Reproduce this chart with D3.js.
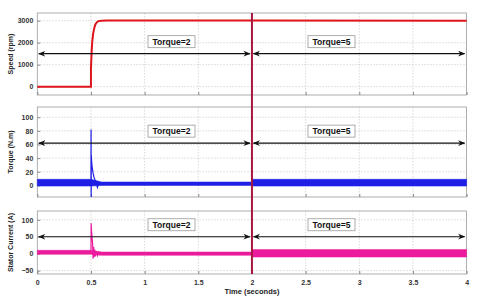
<!DOCTYPE html>
<html>
<head>
<meta charset="utf-8">
<script src="https://cdn.jsdelivr.net/npm/d3@7"></script>
<style>
  body { margin: 0; background: #fff; }
  text { font-family: "Liberation Sans", Arial, sans-serif; font-weight: bold; }
</style>
</head>
<body>
<div class="vis-area"></div>
<script>
var width = 480;
var height = 302;

// time axis
var timeTicks = [0, 0.5, 1, 1.5, 2, 2.5, 3, 3.5, 4];
var timeTickLabels = ['0', '0.5', '1', '1.5', '2', '2.5', '3', '3.5', '4'];
var loadStepTime = 2;
var loadLabels = ['Torque=2', 'Torque=5'];

// speed (rpm)
var speedT = [0, 0.5, 0.5, 0.503, 0.507, 0.512, 0.52, 0.53, 0.54, 0.555, 0.57, 0.6, 0.65, 2, 4];
var speedV = [0, 0, 850, 1200, 1650, 2050, 2400, 2650, 2820, 2930, 2980, 3000, 3005, 3005, 3000];
var speedTicks = [0, 1000, 2000, 3000];

// torque (N.m): noise envelope + start-up transient
var torqueBandT = [0, 0.5, 0.6, 2, 2, 4];
var torqueBandLo = [-1, -1, 0, 0, -1, -1];
var torqueBandHi = [9, 9, 5, 5, 9, 9];
var torqueT = [0.5, 0.501, 0.502, 0.503, 0.505, 0.51, 0.52, 0.53, 0.54, 0.55, 0.56, 0.57, 0.58, 0.6];
var torqueV = [4, 82, -17, 45, 38, 28, 18, 11, 7, 3, -3, 2, 3, 2.5];
var torqueTicks = [0, 20, 40, 60, 80, 100];

// stator current (A): noise envelope + start-up transient
var currentBandT = [0, 0.5, 0.6, 2, 2, 4];
var currentBandLo = [-2, -2, -5, -5, -10, -10];
var currentBandHi = [10, 10, 5, 5, 12, 12];
var currentT = [0.5, 0.502, 0.505, 0.51, 0.515, 0.52, 0.525, 0.53, 0.535, 0.54, 0.55, 0.56, 0.57, 0.58, 0.6];
var currentV = [5, 90, 70, 50, 30, -15, 20, -10, 12, -8, 6, -6, 4, -3, 0];
var currentTicks = [-50, 0, 50, 100];

var panels = [
  { label: 'Speed (rpm)', top: 13, bottom: 95, domain: [-380, 3350], ticks: speedTicks, arrowAt: 1500 },
  { label: 'Torque (N.m)', top: 107, bottom: 197, domain: [-17, 115], ticks: torqueTicks, arrowAt: 62 },
  { label: 'Stator Current (A)', top: 211, bottom: 274, domain: [-60, 126], ticks: currentTicks, arrowAt: 50 }
];

var svg = d3.select('.vis-area')
  .append('svg')
  .attr('width', width)
  .attr('height', height);

var defs = svg.append('defs');
defs.append('marker')
  .attr('id', 'arrow')
  .attr('viewBox', '0 0 10 10')
  .attr('refX', 9).attr('refY', 5)
  .attr('markerWidth', 6).attr('markerHeight', 6)
  .attr('orient', 'auto-start-reverse')
  .append('path')
  .attr('d', 'M0,1 L10,5 L0,9 L3,5 Z')
  .attr('fill', '#111');

var x = d3.scaleLinear().domain([0, 4]).range([37.3, 466.6]);

panels.forEach(function(p, i) {
  var y = d3.scaleLinear().domain(p.domain).range([p.bottom, p.top]);
  p.y = y;
  var g = svg.append('g');

  // grid
  g.selectAll('.vgrid').data(timeTicks.slice(1, -1)).enter()
    .append('line')
    .attr('x1', d => x(d)).attr('x2', d => x(d))
    .attr('y1', p.top).attr('y2', p.bottom)
    .attr('stroke', '#c8c8c8').attr('stroke-width', 0.7).attr('stroke-dasharray', '1.5,1.5');
  g.selectAll('.hgrid').data(p.ticks).enter()
    .append('line')
    .attr('x1', x(0)).attr('x2', x(4))
    .attr('y1', d => y(d)).attr('y2', d => y(d))
    .attr('stroke', '#c8c8c8').attr('stroke-width', 0.7).attr('stroke-dasharray', '1.5,1.5');

  // frame
  g.append('rect')
    .attr('x', x(0)).attr('y', p.top)
    .attr('width', x(4) - x(0)).attr('height', p.bottom - p.top)
    .attr('fill', 'none').attr('stroke', '#9a9a9a').attr('stroke-width', 0.8);

  // y axis
  var yAxis = d3.axisLeft(y).tickValues(p.ticks).tickSize(-3).tickPadding(4).tickFormat(d3.format('d'));
  var ya = g.append('g').attr('transform', 'translate(' + x(0) + ',0)').call(yAxis);
  ya.select('.domain').remove();
  ya.selectAll('line').attr('stroke', '#888');
  ya.selectAll('text').attr('font-size', 7).attr('fill', '#333');

  g.append('text')
    .attr('transform', 'translate(13,' + (p.top + p.bottom) / 2 + ') rotate(-90)')
    .attr('text-anchor', 'middle')
    .attr('font-size', 7)
    .attr('fill', '#222')
    .text(p.label);

  // x ticks
  var xAxis = d3.axisBottom(x).tickValues(timeTicks).tickSize(-3)
    .tickFormat((d, k) => i === 2 ? timeTickLabels[k] : '').tickPadding(6);
  var xa = g.append('g').attr('transform', 'translate(0,' + p.bottom + ')').call(xAxis);
  xa.select('.domain').remove();
  xa.selectAll('line').attr('stroke', '#888');
  xa.selectAll('text').attr('font-size', 7).attr('fill', '#333');
});

// data marks
var line = (y) => d3.line().x(d => x(d[0])).y(d => y(d[1]));
var band = (y) => d3.area().x(d => x(d[0])).y0(d => y(d[1])).y1(d => y(d[2]));

svg.append('path')
  .datum(speedT.map((t, k) => [t, speedV[k]]))
  .attr('d', line(panels[0].y))
  .attr('fill', 'none').attr('stroke', '#e0141c').attr('stroke-width', 2);

svg.append('path')
  .datum(torqueBandT.map((t, k) => [t, torqueBandLo[k], torqueBandHi[k]]))
  .attr('d', band(panels[1].y))
  .attr('fill', '#1f1fe6').attr('stroke', '#1f1fe6').attr('stroke-width', 0.5);
svg.append('path')
  .datum(torqueT.map((t, k) => [t, torqueV[k]]))
  .attr('d', line(panels[1].y))
  .attr('fill', 'none').attr('stroke', '#1f1fe6').attr('stroke-width', 1.2);

svg.append('path')
  .datum(currentBandT.map((t, k) => [t, currentBandLo[k], currentBandHi[k]]))
  .attr('d', band(panels[2].y))
  .attr('fill', '#ec1a9c').attr('stroke', '#ec1a9c').attr('stroke-width', 0.5);
svg.append('path')
  .datum(currentT.map((t, k) => [t, currentV[k]]))
  .attr('d', line(panels[2].y))
  .attr('fill', 'none').attr('stroke', '#ec1a9c').attr('stroke-width', 1.2);

// load step marker
svg.append('line')
  .attr('x1', x(loadStepTime)).attr('x2', x(loadStepTime))
  .attr('y1', panels[0].top).attr('y2', panels[2].bottom)
  .attr('stroke', '#a8173e').attr('stroke-width', 2);

// annotations
panels.forEach(function(p) {
  var ay = p.y(p.arrowAt);
  var spans = [[0, loadStepTime], [loadStepTime, 4]];
  spans.forEach(function(s, k) {
    svg.append('line')
      .attr('x1', x(s[0]) + 1.5).attr('x2', x(s[1]) - 2)
      .attr('y1', ay).attr('y2', ay)
      .attr('stroke', '#111').attr('stroke-width', 1.2)
      .attr('marker-start', 'url(#arrow)')
      .attr('marker-end', 'url(#arrow)');
  });
  var boxY = ay - 18;
  var boxes = [[148, loadLabels[0]], [308, loadLabels[1]]];
  boxes.forEach(function(b) {
    svg.append('rect')
      .attr('x', b[0]).attr('y', boxY)
      .attr('width', 47).attr('height', 12)
      .attr('fill', '#fff').attr('stroke', '#999').attr('stroke-width', 0.8);
    svg.append('text')
      .attr('x', b[0] + 23.5).attr('y', boxY + 9)
      .attr('text-anchor', 'middle')
      .attr('font-size', 8.5)
      .attr('fill', '#111')
      .text(b[1]);
  });
});

svg.append('text')
  .attr('x', (x(0) + x(4)) / 2).attr('y', 294)
  .attr('text-anchor', 'middle')
  .attr('font-size', 7.5)
  .attr('fill', '#222')
  .text('Time (seconds)');
</script>
</body>
</html>
